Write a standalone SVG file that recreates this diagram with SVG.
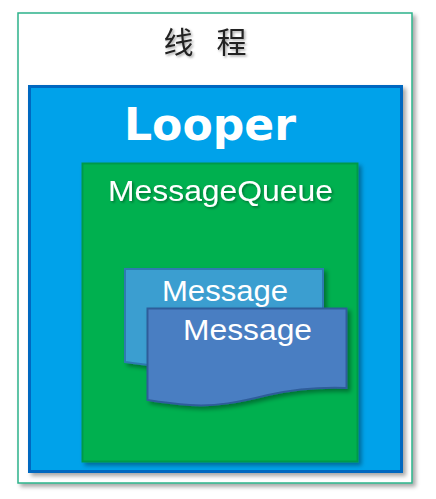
<svg xmlns="http://www.w3.org/2000/svg" width="436" height="499" viewBox="0 0 436 499">
<defs>
<filter id="sh" x="-10%" y="-10%" width="125%" height="125%">
<feDropShadow dx="3" dy="3" stdDeviation="2" flood-color="#000" flood-opacity="0.35"/>
</filter>
<filter id="tsh" x="-10%" y="-20%" width="130%" height="150%">
<feDropShadow dx="1.5" dy="1.5" stdDeviation="1" flood-color="#000" flood-opacity="0.35"/>
</filter>
</defs>
<style>
.lbl{font-family:"Liberation Sans",Arial,sans-serif;fill:#ffffff;font-size:30px}
</style>
<rect width="436" height="499" fill="#ffffff"/>
<g id="thread">
<rect x="18" y="13" width="394" height="470" fill="#ffffff" stroke="#2db38a" stroke-width="1.5" filter="url(#sh)"/>
<text x="205" y="53" text-anchor="middle" xml:space="preserve" textLength="83" font-family="'Noto Sans CJK SC',sans-serif" font-size="30" fill="#222222" filter="url(#tsh)">线 程</text>
</g>
<g id="looper">
<rect x="29.5" y="86.5" width="372" height="385" fill="#00a2ea" stroke="#0068c0" stroke-width="3" filter="url(#sh)"/>
<text x="210" y="140" text-anchor="middle" font-family="'DejaVu Sans',Verdana,sans-serif" font-weight="bold" font-size="45" fill="#ffffff" textLength="172" lengthAdjust="spacingAndGlyphs">Looper</text>
</g>
<g id="messagequeue">
<rect x="82.5" y="163.5" width="275" height="298" fill="#00b050" stroke="#00994a" stroke-width="2" filter="url(#sh)"/>
<text class="lbl" x="108" y="201" textLength="225" lengthAdjust="spacingAndGlyphs" filter="url(#tsh)">MessageQueue</text>
</g>
<g id="message1">
<path d="M125,269 H323 V362 H148 V365 C140,364 132,363 125,362 Z" fill="#3a9ed0" stroke="#2d7ab0" stroke-width="2" filter="url(#sh)"/>
<text class="lbl" x="162" y="301" textLength="126" lengthAdjust="spacingAndGlyphs">Message</text>
</g>
<g id="message2">
<path d="M147.5,308.5 H346.5 V388 C320,387 295,389 268,395 C240,402 215,407 190,405 C175,404 160,402 147.5,400 Z" fill="#4a7ec2" stroke="#2e5d9a" stroke-width="2" filter="url(#sh)"/>
<text class="lbl" x="183" y="340" textLength="129" lengthAdjust="spacingAndGlyphs">Message</text>
</g>
<g id="connectors"/>
</svg>
